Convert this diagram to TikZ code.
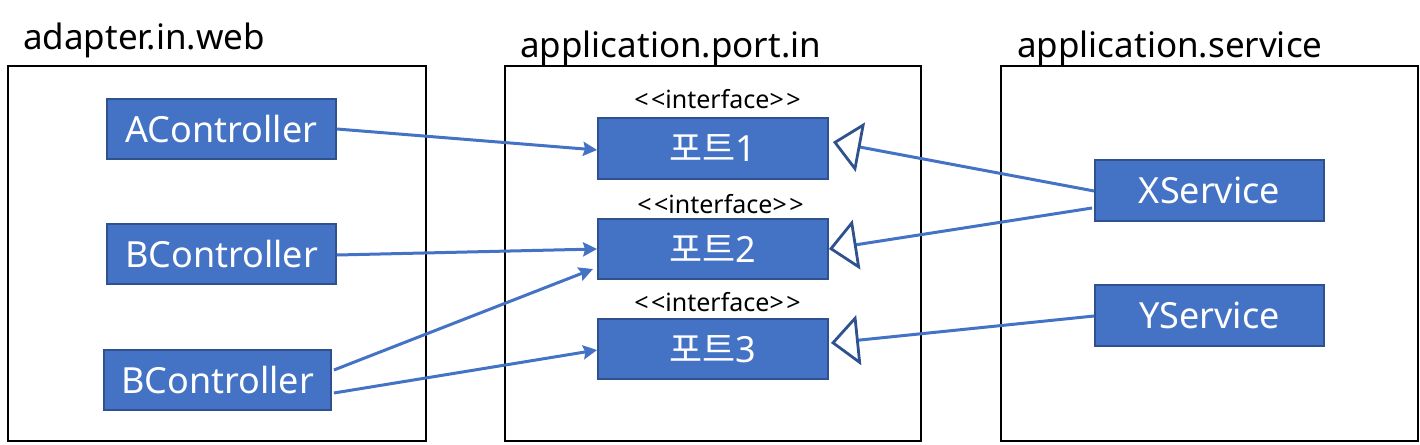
\documentclass[tikz,border=0pt]{standalone}
\usepackage{fontspec}
\setmainfont{Noto Sans}
\newfontfamily\kofont{Noto Sans CJK KR}
\usetikzlibrary{arrows.meta}
\definecolor{obox}{HTML}{4472C4}
\definecolor{oedge}{HTML}{2F528F}
\tikzset{
  frame/.style={draw=black, line width=1.8pt},
  cls/.style={draw=oedge, line width=1.8pt, fill=obox, text=white, inner sep=0pt},
  assoc/.style={draw=obox, line width=3pt, -{Stealth[length=14pt,width=14pt,inset=2pt]}},
  realize/.style={draw=obox, line width=3pt, -{Triangle[open, length=28pt, width=50pt, line width=2.8pt, color=oedge, fill=white]}},
  ttl/.style={anchor=base west, inner sep=0pt, font=\fontsize{35}{40}\selectfont},
  stereo/.style={anchor=base, inner sep=0pt, font=\fontsize{25}{28}\selectfont},
  boxtxt/.style={font=\fontsize{36}{42}\selectfont}
}
\newcommand{\stereotxt}{<\kern2.5pt<interface>\kern2.5pt>}
\begin{document}
\begin{tikzpicture}[x=1pt,y=-1pt]
\useasboundingbox (0,0) rectangle (1420,444);
% frames
\draw[frame] (8,66) rectangle (426,441);
\draw[frame] (505,66) rectangle (921,441);
\draw[frame] (1001,66) rectangle (1418,441);
\node[ttl] (t1) at (23,50) {adapter.in.web};
\node[ttl] (t2) at (520,57) {application.port.in};
\node[ttl] (t3) at (1017,57) {application.service};
% left boxes
\node[cls, minimum width=229pt, minimum height=60pt, boxtxt] (ac) at (221.5,129) {AController};
\node[cls, minimum width=229pt, minimum height=60pt, boxtxt] (bc) at (221.5,254) {BController};
\node[cls, minimum width=227pt, minimum height=60pt, boxtxt] (bc2) at (217.5,380) {BController};
% ports
\node[cls, minimum width=230pt, minimum height=61pt, boxtxt] (p1) at (713,148.5) {\kofont 포트\rmfamily 1};
\node[cls, minimum width=230pt, minimum height=60pt, boxtxt] (p2) at (713,249) {\kofont 포트\rmfamily 2};
\node[cls, minimum width=230pt, minimum height=60pt, boxtxt] (p3) at (713,349) {\kofont 포트\rmfamily 3};
\node[stereo] (s1) at (717.5,108) {\stereotxt};
\node[stereo] (s2) at (720.5,213) {\stereotxt};
\node[stereo] (s3) at (717.5,311) {\stereotxt};
% services
\node[cls, minimum width=229pt, minimum height=61pt, boxtxt] (xs) at (1209.5,190.5) {XService};
\node[cls, minimum width=229pt, minimum height=61pt, boxtxt] (ys) at (1209.5,315.5) {YService};
% connectors
\coordinate (e4) at (593,269);
\draw[assoc] (ac.east) -- ([yshift=-1.5pt]p1.west);
\draw[assoc] ([yshift=-1pt]bc.east) -- (p2.west);
\draw[assoc] ([xshift=2pt,yshift=10pt]bc2.east) -- (e4);
\draw[assoc] ([xshift=2pt,yshift=-13pt]bc2.east) -- ([yshift=-1pt]p3.west);
\draw[realize] ([yshift=-0.5pt]xs.west) -- ([xshift=4pt,yshift=6.5pt]p1.east);
\draw[realize] ([xshift=-2pt,yshift=-17.5pt]xs.west) -- (p2.east);
\draw[realize] ([yshift=-0.5pt]ys.west) -- ([xshift=2pt,yshift=6pt]p3.east);
\end{tikzpicture}
\end{document}
